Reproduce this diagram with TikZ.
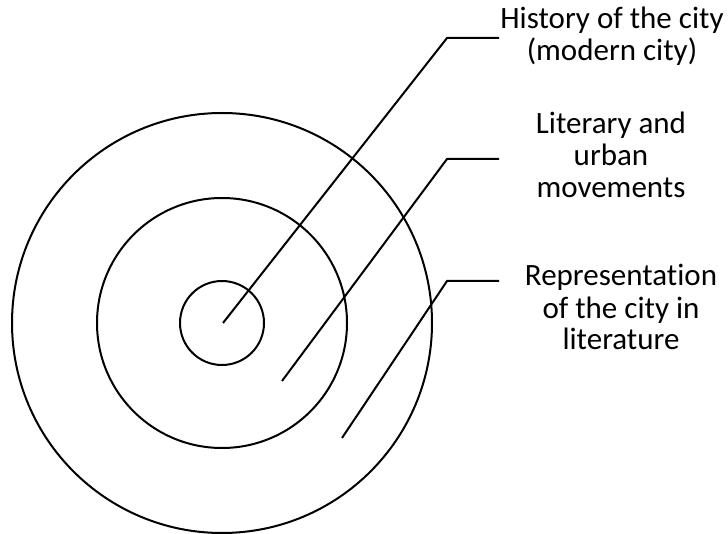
\documentclass[tikz,border=0pt]{standalone}
\usepackage{fontspec}
\setmainfont{Carlito}[Ligatures=NoCommon]
\begin{document}
\begin{tikzpicture}[x=1pt,y=-1pt,
  ring/.style={draw,line width=2pt},
  lead/.style={draw,line width=2pt},
  label/.style={align=center,inner sep=0pt,anchor=base,font=\fontsize{31}{32}\selectfont}]
\useasboundingbox (0,0) rectangle (728,534);
\coordinate (c) at (222,323);
\draw[ring] (c) circle (210pt);
\draw[ring] (c) circle (125pt);
\draw[ring] (c) circle (42pt);
\coordinate (e1) at (223,323);
\coordinate (k1) at (447,38);
\coordinate (t1) at (499,38);
\coordinate (e2) at (282,381);
\coordinate (k2) at (447,159);
\coordinate (t2) at (499,159);
\coordinate (e3) at (342,438);
\coordinate (k3) at (447,281);
\coordinate (t3) at (499,281);
\draw[lead] (e1) -- (k1) -- (t1);
\draw[lead] (e2) -- (k2) -- (t2);
\draw[lead] (e3) -- (k3) -- (t3);
\node[label] (l1) at (612,61) {History of the city\\(modern city)};
\node[label] (l2) at (611,198) {Literary and\\urban\\movements};
\node[label] (l3) at (621,350) {Representation\\of the city in\\literature};
\end{tikzpicture}
\end{document}
